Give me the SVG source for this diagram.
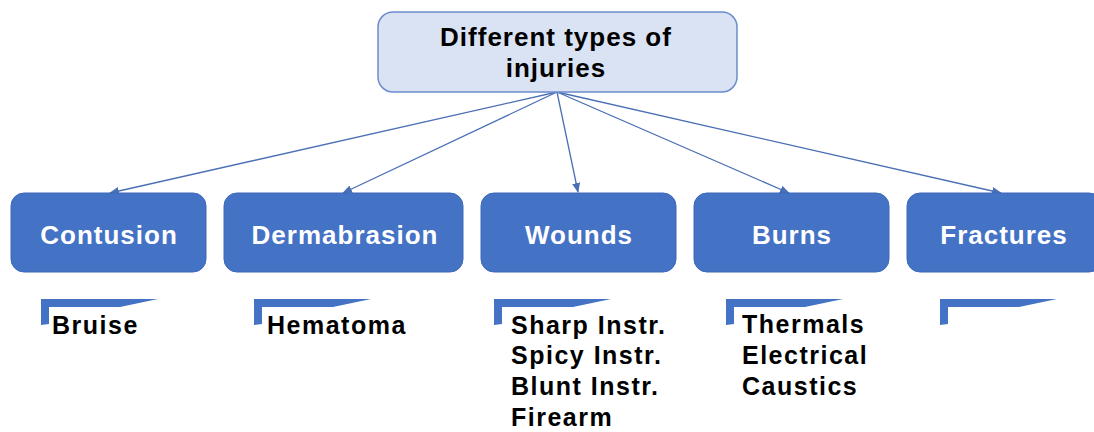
<svg xmlns="http://www.w3.org/2000/svg" width="1094" height="432" viewBox="0 0 1094 432">
<style>
.main{fill:#4472c4;stroke:#3d68b8;stroke-width:1}
.top{fill:#dae3f3;stroke:#6c8ccc;stroke-width:1.5}
.lbl{font-family:"Liberation Sans",Arial,sans-serif;font-weight:bold;font-size:26px;letter-spacing:1px;fill:#ffffff;text-anchor:middle}
.ttl{font-family:"Liberation Sans",Arial,sans-serif;font-weight:bold;font-size:26px;letter-spacing:1px;fill:#000000;text-anchor:middle}
.sub{font-family:"Liberation Sans",Arial,sans-serif;font-weight:bold;font-size:25px;letter-spacing:1.5px;fill:#000000}
.br{fill:#4472c4}
.con{stroke:#4a6fb5;stroke-width:1.3;fill:none;marker-end:url(#ah)}
</style>
<defs>
<marker id="ah" markerWidth="10" markerHeight="10" refX="9" refY="5" orient="auto" markerUnits="userSpaceOnUse">
<path d="M0,1 L10,5 L0,9 Z" fill="#4a6fb5"/>
</marker>
</defs>
<rect width="1094" height="432" fill="#ffffff"/>
<g id="connectors">
<line class="con" x1="557" y1="92" x2="110" y2="193"/>
<line class="con" x1="557" y1="92" x2="343" y2="193"/>
<line class="con" x1="557" y1="92" x2="578" y2="192"/>
<line class="con" x1="557" y1="92" x2="789" y2="193"/>
<line class="con" x1="557" y1="92" x2="1001" y2="193"/>
</g>
<g id="root">
<rect class="top" x="378" y="12" width="359" height="80" rx="15"/>
<text class="ttl" x="556" y="46">Different types of</text>
<text class="ttl" x="556" y="77">injuries</text>
</g>
<g id="contusion">
<rect class="main" x="11" y="193" width="195" height="79" rx="13"/>
<text class="lbl" x="109" y="244">Contusion</text>
</g>
<g id="dermabrasion">
<rect class="main" x="224" y="193" width="239" height="79" rx="13"/>
<text class="lbl" x="345" y="244">Dermabrasion</text>
</g>
<g id="wounds">
<rect class="main" x="481" y="193" width="195" height="79" rx="13"/>
<text class="lbl" x="579" y="244">Wounds</text>
</g>
<g id="burns">
<rect class="main" x="694" y="193" width="195" height="79" rx="13"/>
<text class="lbl" x="792" y="244">Burns</text>
</g>
<g id="fractures">
<rect class="main" x="907" y="193" width="195" height="79" rx="13"/>
<text class="lbl" x="1004" y="244">Fractures</text>
</g>
<g id="bruise">
<polygon class="br" points="41,299 158,299 120,307 49,307 49,324 41,325"/>
<text class="sub" x="52" y="334">Bruise</text>
</g>
<g id="hematoma">
<polygon class="br" points="254,299 371,299 333,307 262,307 262,324 254,325"/>
<text class="sub" x="267" y="334">Hematoma</text>
</g>
<g id="wound-types">
<polygon class="br" points="494,299 611,299 573,307 502,307 502,324 494,325"/>
<text class="sub" x="511" y="334">Sharp Instr.</text>
<text class="sub" x="511" y="364">Spicy Instr.</text>
<text class="sub" x="511" y="395">Blunt Instr.</text>
<text class="sub" x="511" y="426">Firearm</text>
</g>
<g id="burn-types">
<polygon class="br" points="726,299 843,299 805,307 734,307 734,324 726,325"/>
<text class="sub" x="742" y="333">Thermals</text>
<text class="sub" x="742" y="364">Electrical</text>
<text class="sub" x="742" y="395">Caustics</text>
</g>
<g id="fracture-types">
<polygon class="br" points="940,299 1057,299 1019,307 948,307 948,324 940,325"/>
</g>
</svg>
